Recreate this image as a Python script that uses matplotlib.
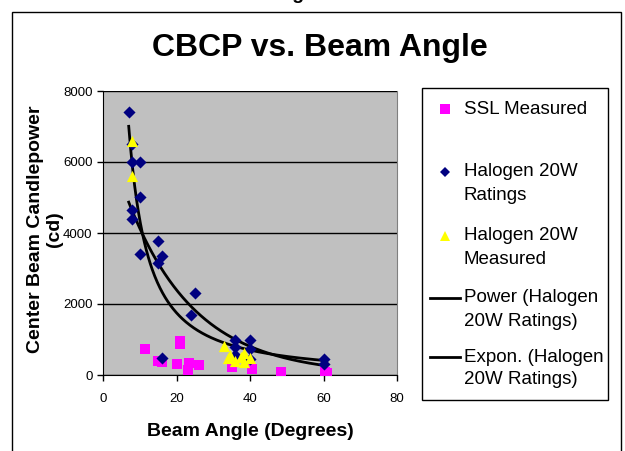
import matplotlib
matplotlib.use('Agg')
import matplotlib.pyplot as plt
from matplotlib.lines import Line2D
from matplotlib.patches import Rectangle
import numpy as np

plt.rcParams['font.family'] = ['Liberation Sans', 'DejaVu Sans']

# SSL Measured
ssl_x = [11.5, 21, 21, 15, 16, 20, 23.5, 26, 23, 35, 40.5, 48.5, 60.5, 61]
ssl_y = [730, 950, 880, 400, 360, 310, 330, 280, 150, 230, 180, 75, 75, 60]

# Halogen 20W Ratings
hal_x = [7, 8, 8, 10, 10, 8, 8, 15, 10, 16, 15, 25, 24, 16,
         36, 36, 36, 40, 40, 40, 60, 60]
hal_y = [7400, 6500, 6000, 6000, 5000, 4650, 4400, 3775, 3400, 3350, 3150, 2300, 1700, 475,
         1000, 800, 550, 1000, 720, 460, 440, 310]

# Halogen 20W Measured
meas_x = [8, 8, 33, 34, 34.5, 36, 38.5, 38.5, 40, 37.5]
meas_y = [6600, 5600, 830, 470, 560, 400, 610, 380, 470, 520]

# trendline coefficients (Excel trendlines on the ratings)
power_coef, power_exp = 91400, -1.32     # y = a * x^b
expo_coef, expo_rate = 7130, -0.0545     # y = a * e^(b x)

x_ticks = [0, 20, 40, 60, 80]
y_ticks = [0, 2000, 4000, 6000, 8000]

W, H = 625, 451
fig = plt.figure(figsize=(6.25, 4.51), dpi=100)


def fx(px):
    return px / W


def fy(py):
    return 1 - py / H


ax = fig.add_axes([fx(103), fy(375), fx(397) - fx(103), fy(91) - fy(375)])
ax.set_facecolor('#C0C0C0')
ax.set_xlim(0, 80)
ax.set_ylim(0, 8000)
ax.set_xticks(x_ticks)
ax.set_yticks(y_ticks)
ax.tick_params(labelsize=9.5, length=4, width=1, direction='out', colors='black')
ax.tick_params(axis='x', pad=9)
ax.yaxis.grid(True, color='black', linewidth=1)
ax.set_axisbelow(True)
for s in ['left', 'bottom']:
    ax.spines[s].set_color('black')
ax.spines['top'].set_visible(False)
ax.spines['right'].set_color('#808080')

# trendlines over the span of the ratings
xs = np.linspace(min(hal_x), max(hal_x), 300)
ax.plot(xs, power_coef * xs ** power_exp, color='black', lw=2, zorder=3)
ax.plot(xs, expo_coef * np.exp(expo_rate * xs), color='black', lw=2, zorder=3)

ax.scatter(ssl_x, ssl_y, marker='s', s=60, color='#FF00FF', linewidths=0, zorder=4)
ax.scatter(hal_x, hal_y, marker='D', s=38, color='#000080', linewidths=0, zorder=5)
ax.scatter(meas_x, meas_y, marker='^', s=65, color='#FFFF00', linewidths=0, zorder=6)

# titles
fig.text(fx(320), fy(48), 'CBCP vs. Beam Angle', ha='center', va='center',
         fontsize=23, fontweight='bold')
fig.text(fx(250), fy(432), 'Beam Angle (Degrees)', ha='center', va='center',
         fontsize=14, fontweight='bold')
fig.text(fx(45), fy(229), 'Center Beam Candlepower\n(cd)', ha='center', va='center',
         rotation=90, fontsize=14, fontweight='bold', multialignment='center',
         linespacing=1.1)
fig.text(fx(313), fy(-1), 'Figure 4', ha='center', va='baseline',
         fontsize=14, fontweight='bold')

# chart border
fig.patches.append(Rectangle((fx(12), fy(470)), fx(621) - fx(12), fy(12) - fy(470),
                             transform=fig.transFigure, fill=False, edgecolor='black', lw=1))

# legend drawn by hand so markers sit on first text line
fig.patches.append(Rectangle((fx(422), fy(400)), fx(608) - fx(422), fy(88) - fy(400),
                             transform=fig.transFigure, fill=False, edgecolor='black', lw=1))
entries = [
    (109, ['SSL Measured'], dict(marker='s', color='#FF00FF', ms=7, ls='none')),
    (172, ['Halogen 20W', 'Ratings'], dict(marker='D', color='#000080', ms=5, ls='none')),
    (236, ['Halogen 20W', 'Measured'], dict(marker='^', color='#FFFF00', ms=7, ls='none')),
    (298, ['Power (Halogen', '20W Ratings)'], dict(color='black', lw=2)),
    (357, ['Expon. (Halogen', '20W Ratings)'], dict(color='black', lw=2)),
]
for y0, lines, style in entries:
    if 'marker' in style:
        fig.add_artist(Line2D([fx(445)], [fy(y0)], transform=fig.transFigure,
                              markeredgewidth=0, **style))
    else:
        fig.add_artist(Line2D([fx(430), fx(460)], [fy(y0), fy(y0)],
                              transform=fig.transFigure, **style))
    for i, t in enumerate(lines):
        fig.text(fx(464), fy(y0 + 23 * i), t, ha='left', va='center', fontsize=13.5)

fig.savefig('out.png', dpi=100)
